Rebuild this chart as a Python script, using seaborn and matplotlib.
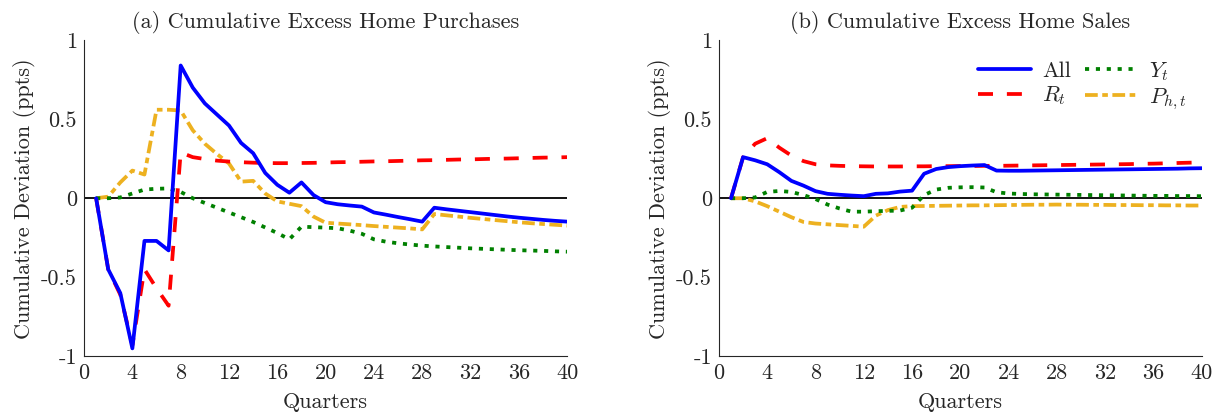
import numpy as np
import matplotlib
matplotlib.use("Agg")
import matplotlib.pyplot as plt
import seaborn as sns

# quarters
quarters = list(range(1, 41))

# (a) cumulative excess home purchases
buy_all = [0, -0.45, -0.60, -0.95, -0.27, -0.27, -0.33, 0.84, 0.70, 0.60,
           0.53, 0.46, 0.35, 0.285, 0.16, 0.085, 0.035, 0.10, 0.02, -0.025,
           -0.038, -0.046, -0.053, -0.09, -0.104, -0.119, -0.133, -0.148, -0.06, -0.07,
           -0.079, -0.088, -0.097, -0.106, -0.115, -0.123, -0.13, -0.137, -0.143, -0.148]
buy_r = [0, -0.45, -0.61, -0.93, -0.45, -0.57, -0.68, 0.29, 0.26, 0.248,
         0.238, 0.232, 0.228, 0.225, 0.223, 0.222, 0.222, 0.223, 0.224, 0.226,
         0.228, 0.229, 0.231, 0.233, 0.234, 0.236, 0.238, 0.240, 0.241, 0.243,
         0.245, 0.246, 0.248, 0.250, 0.251, 0.253, 0.255, 0.257, 0.258, 0.26]
buy_y = [0, 0.0, 0.005, 0.03, 0.055, 0.06, 0.062, 0.04, 0.0, -0.03,
         -0.06, -0.09, -0.12, -0.15, -0.185, -0.22, -0.26, -0.18, -0.183, -0.186,
         -0.19, -0.205, -0.225, -0.26, -0.275, -0.285, -0.293, -0.30, -0.305, -0.309,
         -0.313, -0.317, -0.32, -0.323, -0.326, -0.329, -0.331, -0.333, -0.336, -0.338]
buy_p = [0, 0.01, 0.10, 0.175, 0.15, 0.56, 0.56, 0.555, 0.43, 0.345,
         0.28, 0.22, 0.105, 0.11, 0.03, -0.02, -0.035, -0.05, -0.116, -0.155,
         -0.16, -0.165, -0.17, -0.176, -0.181, -0.186, -0.191, -0.197, -0.10, -0.108,
         -0.116, -0.124, -0.131, -0.138, -0.145, -0.152, -0.158, -0.163, -0.168, -0.173]

# (b) cumulative excess home sales
sell_all = [0, 0.26, 0.24, 0.215, 0.165, 0.11, 0.08, 0.045, 0.028, 0.022,
            0.017, 0.013, 0.028, 0.031, 0.042, 0.048, 0.155, 0.185, 0.197, 0.203,
            0.207, 0.21, 0.175, 0.174, 0.174, 0.175, 0.176, 0.177, 0.178, 0.179,
            0.18, 0.181, 0.182, 0.183, 0.184, 0.185, 0.186, 0.187, 0.189, 0.19]
sell_r = [0, 0.26, 0.345, 0.38, 0.32, 0.27, 0.235, 0.215, 0.208, 0.205,
          0.203, 0.202, 0.201, 0.201, 0.201, 0.202, 0.202, 0.203, 0.203, 0.204,
          0.204, 0.205, 0.205, 0.206, 0.207, 0.208, 0.209, 0.21, 0.211, 0.212,
          0.213, 0.214, 0.215, 0.216, 0.218, 0.219, 0.221, 0.223, 0.225, 0.227]
sell_y = [0, 0, 0.005, 0.04, 0.046, 0.04, 0.02, -0.005, -0.04, -0.065,
          -0.085, -0.085, -0.082, -0.08, -0.078, -0.06, 0.02, 0.055, 0.066, 0.069,
          0.07, 0.068, 0.038, 0.03, 0.027, 0.025, 0.024, 0.023, 0.022, 0.021,
          0.02, 0.019, 0.018, 0.017, 0.016, 0.015, 0.015, 0.014, 0.014, 0.013]
sell_p = [0, 0, -0.02, -0.05, -0.085, -0.12, -0.15, -0.16, -0.165, -0.17,
          -0.175, -0.18, -0.11, -0.075, -0.055, -0.05, -0.049, -0.048, -0.047, -0.046,
          -0.045, -0.045, -0.044, -0.043, -0.042, -0.041, -0.041, -0.04, -0.041, -0.041,
          -0.042, -0.042, -0.043, -0.043, -0.044, -0.044, -0.045, -0.045, -0.046, -0.046]

titles = ["(a) Cumulative Excess Home Purchases", "(b) Cumulative Excess Home Sales"]
labels = ["All", "$R_t$", "$Y_t$", "$P_{h,t}$"]
xticks = list(range(0, 41, 4))
yticks = [-1, -0.5, 0, 0.5, 1]
ytick_labels = ["-1", "-0.5", "0", "0.5", "1"]

sns.set_style("white")
plt.rcParams["font.family"] = ["cmr10", "DejaVu Serif"]
plt.rcParams["mathtext.fontset"] = "cm"
plt.rcParams["axes.unicode_minus"] = False

colors = ["#0000ff", "#ff0000", "#008000", "#edb120"]
styles = ["-", (0, (4.0, 3.7)), (0, (1.1, 1.8)), (0, (3.4, 1.2, 1.5, 1.2))]
fs = 16

fig = plt.figure(figsize=(12.2, 4.17), dpi=100)
ax1 = fig.add_axes([0.0689, 0.1456, 0.396, 0.758])
ax2 = fig.add_axes([0.5893, 0.1456, 0.3957, 0.758])

panels = [(ax1, [buy_all, buy_r, buy_y, buy_p]), (ax2, [sell_all, sell_r, sell_y, sell_p])]
for i, (ax, series) in enumerate(panels):
    ax.axhline(0, color="black", lw=1.3, zorder=1)
    # draw back to front like the original
    for vals, c, ls, lab in zip(series[::-1], colors[::-1], styles[::-1], labels[::-1]):
        sns.lineplot(x=quarters, y=vals, ax=ax, color=c, lw=2.7, linestyle=ls,
                     label=lab, zorder=2)
    ax.set_xlim(0, 40)
    ax.set_ylim(-1, 1)
    ax.set_xticks(xticks)
    ax.set_xticklabels([str(t) for t in xticks])
    ax.set_yticks(yticks)
    ax.set_yticklabels(ytick_labels)
    ax.tick_params(direction="in", length=5, width=0.8, color="#262626",
                   labelsize=fs, labelcolor="#262626", pad=5)
    for s in ["top", "right"]:
        ax.spines[s].set_visible(False)
    for s in ["left", "bottom"]:
        ax.spines[s].set_color("#262626")
        ax.spines[s].set_linewidth(0.8)
    ax.set_xlabel("Quarters", fontsize=fs, labelpad=7)
    ax.set_ylabel("Cumulative Deviation (ppts)", fontsize=fs, labelpad=4)
    ax.set_title(titles[i], fontsize=fs, pad=9)
    ax.get_legend().remove()

h, l = ax2.get_legend_handles_labels()
hd = dict(zip(l, h))
ax2.legend([hd[x] for x in labels], labels, ncol=2, frameon=False, fontsize=fs,
           loc="upper right", bbox_to_anchor=(1.01, 1.0), handlelength=2.4,
           columnspacing=0.6, handletextpad=0.5, labelspacing=0.15)

fig.savefig("out.png", dpi=100)
